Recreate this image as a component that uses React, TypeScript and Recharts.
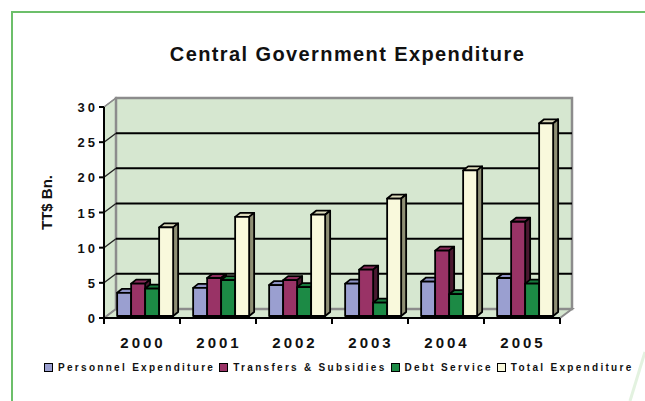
import { Bar, BarChart, CartesianGrid, ReferenceArea, XAxis, YAxis } from "recharts";

const years = ["2000", "2001", "2002", "2003", "2004", "2005"];
const personnel = [3.3, 4.0, 4.4, 4.6, 4.9, 5.4];
const transfers = [4.6, 5.4, 5.1, 6.6, 9.3, 13.4];
const debtService = [3.9, 5.1, 4.1, 1.9, 3.1, 4.6];
const totalExp = [12.6, 14.1, 14.4, 16.7, 20.7, 27.4];
const yTicks = [0, 5, 10, 15, 20, 25, 30];

const series = [
  { key: "personnel", name: "Personnel Expenditure", face: "#9a9fd0", top: "#8d92c4", side: "#565a86" },
  { key: "transfers", name: "Transfers & Subsidies", face: "#993366", top: "#8a2d5c", side: "#4a1830" },
  { key: "debt", name: "Debt Service", face: "#1c8a45", top: "#177a3c", side: "#0c4421" },
  { key: "total", name: "Total Expenditure", face: "#f9f9dc", top: "#dcdabb", side: "#8f8f74" },
];

const data = years.map((y, i) => ({
  year: y,
  personnel: personnel[i],
  transfers: transfers[i],
  debt: debtService[i],
  total: totalExp[i],
}));

const FONT = '"Liberation Sans", Arial, sans-serif';
const WALL = "#d6e7d0";
// 3d look: back wall offset and bar depth
const WX = 12;
const WY = 9;
const BX = 5;
const BY = 4;

function Box3D(props: any) {
  const { x, y, width, height, face, top, side } = props;
  if (!height || height <= 0) return null;
  const bx = x + 2.5;
  const by = y - 2;
  return (
    <g stroke="#000" strokeWidth={1.8} strokeLinejoin="round">
      <polygon points={`${bx},${by} ${bx + BX},${by - BY} ${bx + width + BX},${by - BY} ${bx + width},${by}`} fill={top} />
      <polygon
        points={`${bx + width},${by} ${bx + width + BX},${by - BY} ${bx + width + BX},${by + height - BY} ${bx + width},${by + height}`}
        fill={side}
      />
      <rect x={bx} y={by} width={width} height={height} fill={face} />
    </g>
  );
}

function Walls(props: any) {
  const { x, y, width, height } = props;
  const b = y + height;
  return (
    <g>
      <polygon points={`${x},${b} ${x},${y} ${x + WX},${y - WY} ${x + WX},${b - WY}`} fill={WALL} stroke="#8c8c8c" strokeWidth={1.5} />
      <polygon points={`${x},${b} ${x + WX},${b - WY} ${x + width + WX},${b - WY} ${x + width},${b}`} fill={WALL} stroke="#8c8c8c" strokeWidth={2} />
      <rect x={x + WX} y={y - WY} width={width} height={height} fill={WALL} stroke="#8c8c8c" strokeWidth={2.5} />
    </g>
  );
}

function GridLine(p: any) {
  const { x1, y1, x2, index } = p;
  const edge = index === 0 || index === yTicks.length - 1 || y1 < 110 || y1 > 315;
  return (
    <g key={`g-${index}-${y1}`}>
      <line x1={x1} y1={y1} x2={x1 + WX} y2={y1 - WY} stroke={edge ? "#8c8c8c" : "#222"} strokeWidth={1.3} />
      {!edge && <line x1={x1 + WX} y1={y1 - WY} x2={x2 + WX} y2={y1 - WY} stroke="#000" strokeWidth={2} />}
    </g>
  );
}

function YearTick(p: any) {
  const { x, y, payload } = p;
  const band = (p.width || 456) / years.length;
  const isLast = payload.index === years.length - 1 || payload.value === years[years.length - 1];
  return (
    <g>
      <line x1={x - band / 2} y1={y - 8} x2={x - band / 2} y2={y - 2} stroke="#000" strokeWidth={2} />
      {isLast && <line x1={x + band / 2} y1={y - 8} x2={x + band / 2} y2={y - 2} stroke="#000" strokeWidth={2} />}
      <text x={x + 1} y={y + 22} textAnchor="middle" fontFamily={FONT} fontWeight="bold" fontSize={15} letterSpacing={3} fill="#111">
        {payload.value}
      </text>
    </g>
  );
}

function ValueTick(p: any) {
  const { x, y, payload } = p;
  return (
    <text x={x + 1} y={y + 5} textAnchor="end" fontFamily={FONT} fontWeight="bold" fontSize={13} letterSpacing={3} fill="#111">
      {payload.value}
    </text>
  );
}

export default function App() {
  return (
    <div style={{ position: "absolute", left: 0, top: 0, width: 645, height: 401, background: "#fff", overflow: "hidden" }}>
      <svg width={645} height={401} style={{ position: "absolute", left: 0, top: 0 }}>
        <polyline points="12,401 12,12 645,12" fill="none" stroke="#6cbf6a" strokeWidth={2} />
        <line x1={645} y1={352} x2={630} y2={401} stroke="#e3f2e0" strokeWidth={3} />
      </svg>
      <div
        style={{
          position: "absolute",
          left: 0,
          width: 645,
          top: 43,
          textAlign: "center",
          paddingLeft: 50,
          boxSizing: "border-box",
          fontFamily: FONT,
          fontWeight: "bold",
          fontSize: 20,
          letterSpacing: 1.4,
          color: "#111",
        }}
      >
        Central Government Expenditure
      </div>
      <div style={{ position: "absolute", left: 0, top: 0 }}>
        <BarChart
          width={645}
          height={401}
          data={data}
          margin={{ top: 107, right: 85, left: 0, bottom: 53 }}
          barCategoryGap="14%"
          barGap={0}
        >
          <ReferenceArea y1={0} y2={30} shape={<Walls />} zIndex={-200} ifOverflow="visible" />
          <CartesianGrid vertical={false} horizontal={(p: any) => <GridLine {...p} />} />
          <XAxis
            dataKey="year"
            height={30}
            axisLine={{ stroke: "#000", strokeWidth: 2 }}
            tickLine={false}
            tick={<YearTick />}
            interval={0}
          />
          <YAxis
            width={104}
            domain={[0, 30]}
            ticks={yTicks}
            interval={0}
            axisLine={{ stroke: "#000", strokeWidth: 2 }}
            tickLine={{ stroke: "#000", strokeWidth: 2 }}
            tickSize={5}
            tick={<ValueTick />}
            label={{
              value: "TT$ Bn.",
              angle: -90,
              position: "insideLeft",
              offset: 47,
              dy: -10,
              style: { fontFamily: FONT, fontWeight: "bold", fontSize: 15, fill: "#111", textAnchor: "middle" },
            }}
          />
          {series.map((s) => (
            <Bar
              key={s.key}
              dataKey={s.key}
              name={s.name}
              fill={s.face}
              isAnimationActive={false}
              shape={(p: any) => <Box3D {...p} face={s.face} top={s.top} side={s.side} />}
            />
          ))}
        </BarChart>
      </div>
      <div
        style={{
          position: "absolute",
          left: 44,
          top: 362,
          display: "flex",
          alignItems: "center",
          fontFamily: FONT,
          fontWeight: "bold",
          fontSize: 10,
          letterSpacing: 2.3,
          color: "#111",
          whiteSpace: "nowrap",
        }}
      >
        {series.map((s) => (
          <div key={s.key} style={{ display: "flex", alignItems: "center", marginRight: 4 }}>
            <span
              style={{
                display: "inline-block",
                width: 7,
                height: 7,
                background: s.face,
                border: "1.5px solid #000",
                marginRight: 5,
              }}
            />
            <span>{s.name}</span>
          </div>
        ))}
      </div>
    </div>
  );
}
